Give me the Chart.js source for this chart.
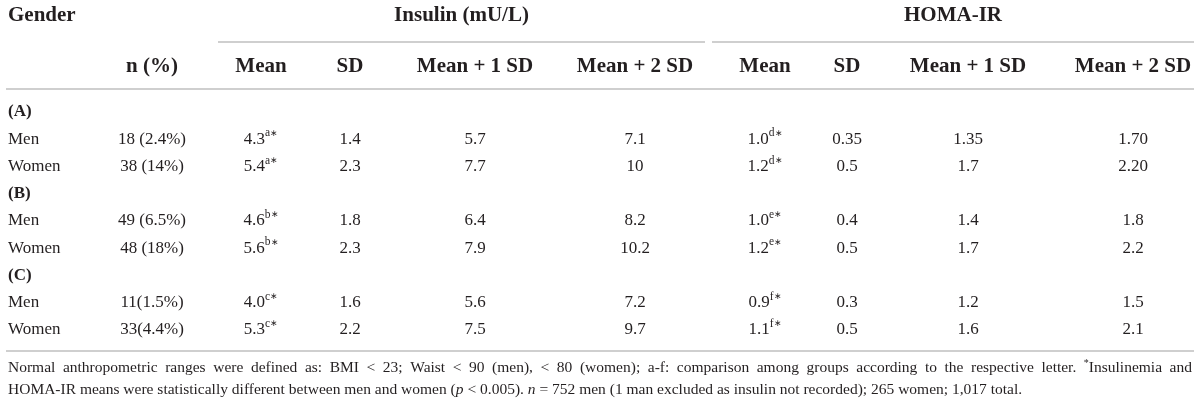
<!DOCTYPE html>
<html><head><meta charset="utf-8">
<script src="https://cdn.jsdelivr.net/npm/chart.js@4/dist/chart.umd.min.js"></script>
<style>html,body{margin:0;padding:0;background:#fff;overflow:hidden}#wrap{width:1200px;height:405px}</style>
</head><body><div id="wrap"><canvas id="c" width="1200" height="405"></canvas></div>
<script>
// ---------- data ----------
const cornerHeader = 'Gender';
const spanHeaders = ['Insulin (mU/L)', 'HOMA-IR'];
const columnHeaders = ['n (%)', 'Mean', 'SD', 'Mean + 1 SD', 'Mean + 2 SD', 'Mean', 'SD', 'Mean + 1 SD', 'Mean + 2 SD'];
const groups = ['(A)', '(B)', '(C)'];
const genders = ['Men', 'Women'];
const nPercent = ['18 (2.4%)', '38 (14%)', '49 (6.5%)', '48 (18%)', '11(1.5%)', '33(4.4%)'];
const insulinMean = ['4.3', '5.4', '4.6', '5.6', '4.0', '5.3'];
const insulinMeanSup = ['a', 'a', 'b', 'b', 'c', 'c'];
const insulinSD = ['1.4', '2.3', '1.8', '2.3', '1.6', '2.2'];
const insulinMean1SD = ['5.7', '7.7', '6.4', '7.9', '5.6', '7.5'];
const insulinMean2SD = ['7.1', '10', '8.2', '10.2', '7.2', '9.7'];
const homaMean = ['1.0', '1.2', '1.0', '1.2', '0.9', '1.1'];
const homaMeanSup = ['d', 'd', 'e', 'e', 'f', 'f'];
const homaSD = ['0.35', '0.5', '0.4', '0.5', '0.3', '0.5'];
const homaMean1SD = ['1.35', '1.7', '1.4', '1.7', '1.2', '1.6'];
const homaMean2SD = ['1.70', '2.20', '1.8', '2.2', '1.5', '2.1'];
const significanceMark = '\u2217';
const footnoteLines = [
  'Normal anthropometric ranges were defined as: BMI < 23; Waist < 90 (men), < 80 (women); a-f: comparison among groups according to the respective letter. ^*^Insulinemia and',
  'HOMA-IR means were statistically different between men and women (_p_ < 0.005). _n_ = 752 men (1 man excluded as insulin not recorded); 265 women; 1,017 total.'
];

// ---------- layout / style ----------
const SERIF = '"Liberation Serif","Times New Roman",serif';
const INK = '#231f20';
const RULE = '#cfcfcf';
const FONT_BODY = '17px ' + SERIF;
const FONT_HEAD = 'bold 21px ' + SERIF;
const FONT_GROUP = 'bold 17px ' + SERIF;
const FONT_SUP = '11.5px ' + SERIF;
const FONT_MARK = '9px ' + SERIF;
const FONT_FOOT = '15.5px ' + SERIF;
const FONT_FOOT_IT = 'italic 15.5px ' + SERIF;
const FONT_FOOT_SUP = '10px ' + SERIF;
const colX = [8, 152, 261, 350, 475, 635, 765, 847, 968, 1133];
const LEFT = 6, RIGHT = 1194;
const spanRanges = [[218, 705], [712, 1194]];
const ROW_PX0 = 112, ROW_H = 27.25, CH = 405;
const Y_MIN = -ROW_PX0 / ROW_H, Y_MAX = (CH - ROW_PX0) / ROW_H;
const rowAt = px => (px - ROW_PX0) / ROW_H;
const HEAD1 = rowAt(16), HEAD2 = rowAt(67);
const SPAN_RULE = rowAt(42), HEAD_RULE = rowAt(89), BOTTOM_RULE = rowAt(351);
const FOOT_ROWS = [rowAt(368), rowAt(390)];
const dataRow = k => Math.floor(k / 2) * 3 + 1 + (k % 2);

// ---------- datasets ----------
const dataCols = [nPercent, insulinMean, insulinSD, insulinMean1SD, insulinMean2SD, homaMean, homaSD, homaMean1SD, homaMean2SD];
const supCols = [null, insulinMeanSup, null, null, null, homaMeanSup, null, null, null];
const datasets = [];
datasets.push({ label: cornerHeader, data: [{ x: colX[0], y: HEAD1 }], cells: [cornerHeader], font: FONT_HEAD, align: 'left' });
datasets.push({ label: 'spans', data: spanRanges.map(r => ({ x: (r[0] + r[1]) / 2, y: HEAD1 })), cells: spanHeaders, font: FONT_HEAD, align: 'center' });
datasets.push({ label: 'columns', data: columnHeaders.map((h, c) => ({ x: colX[c + 1], y: HEAD2 })), cells: columnHeaders, font: FONT_HEAD, align: 'center' });
datasets.push({ label: 'groups', data: groups.map((g, i) => ({ x: colX[0], y: i * 3 })), cells: groups, font: FONT_GROUP, align: 'left' });
datasets.push({ label: 'gender', data: nPercent.map((v, k) => ({ x: colX[0], y: dataRow(k) })), cells: nPercent.map((v, k) => genders[k % 2]), font: FONT_BODY, align: 'left' });
dataCols.forEach((arr, c) => {
  datasets.push({ label: columnHeaders[c], data: arr.map((v, k) => ({ x: colX[c + 1], y: dataRow(k) })), cells: arr, sups: supCols[c], font: FONT_BODY, align: 'center' });
});
datasets.forEach(d => { d.pointRadius = 0; d.pointHoverRadius = 0; d.showLine = false; });

function segWidth(ctx, segs) {
  let w = 0;
  segs.forEach(s => { ctx.font = s.font; w += ctx.measureText(s.t).width; });
  return w;
}
function drawSegs(ctx, segs, x, y) {
  segs.forEach(s => {
    ctx.font = s.font;
    ctx.fillText(s.t, x, y + (s.dy || 0));
    x += ctx.measureText(s.t).width;
  });
  return x;
}
function parseWord(word) {
  return word.split(/(\^[^^]*\^|_[^_]*_)/).filter(Boolean).map(s => {
    if (s[0] === '^') return { t: s.slice(1, -1), font: FONT_FOOT_SUP, dy: -5 };
    if (s[0] === '_') return { t: s.slice(1, -1), font: FONT_FOOT_IT };
    return { t: s, font: FONT_FOOT };
  });
}

const tablePlugin = {
  id: 'tablePlugin',
  beforeDatasetsDraw(chart) {
    const ctx = chart.ctx, ys = chart.scales.y, xs = chart.scales.x;
    ctx.save();
    ctx.strokeStyle = RULE;
    ctx.lineWidth = 2;
    const hline = (x0, x1, v) => {
      const y = Math.round(ys.getPixelForValue(v));
      ctx.beginPath(); ctx.moveTo(xs.getPixelForValue(x0), y); ctx.lineTo(xs.getPixelForValue(x1), y); ctx.stroke();
    };
    spanRanges.forEach(r => hline(r[0], r[1], SPAN_RULE));
    hline(LEFT, RIGHT, HEAD_RULE);
    hline(LEFT, RIGHT, BOTTOM_RULE);
    ctx.restore();
  },
  afterDatasetsDraw(chart) {
    const ctx = chart.ctx;
    ctx.save();
    ctx.fillStyle = INK;
    ctx.textBaseline = 'middle';
    ctx.textAlign = 'left';
    chart.data.datasets.forEach((ds, i) => {
      const meta = chart.getDatasetMeta(i);
      meta.data.forEach((el, j) => {
        const segs = [{ t: ds.cells[j], font: ds.font }];
        if (ds.sups) {
          segs.push({ t: ds.sups[j], font: FONT_SUP, dy: -6 });
          segs.push({ t: significanceMark, font: FONT_MARK, dy: -6 });
        }
        const w = segWidth(ctx, segs);
        const x0 = ds.align === 'center' ? el.x - w / 2 : el.x;
        drawSegs(ctx, segs, x0, el.y);
      });
    });
    // footnote
    const ys = chart.scales.y, xs = chart.scales.x;
    const left = xs.getPixelForValue(colX[0]), right = xs.getPixelForValue(RIGHT - 2);
    footnoteLines.forEach((line, li) => {
      const y = ys.getPixelForValue(FOOT_ROWS[li]);
      const words = line.split(' ').map(parseWord);
      const widths = words.map(w => segWidth(ctx, w));
      ctx.font = FONT_FOOT;
      const normalGap = ctx.measureText(' ').width;
      const total = widths.reduce((a, b) => a + b, 0);
      const gap = li === 0 ? (right - left - total) / (words.length - 1) : normalGap;
      let x = left;
      words.forEach((w, k) => { drawSegs(ctx, w, x, y); x += widths[k] + gap; });
    });
    ctx.restore();
  }
};

new Chart(document.getElementById('c'), {
  type: 'scatter',
  data: { datasets },
  options: {
    responsive: false,
    animation: false,
    events: [],
    layout: { padding: 0 },
    plugins: { legend: { display: false }, tooltip: { enabled: false }, title: { display: false } },
    scales: {
      x: { type: 'linear', min: 0, max: 1200, display: false },
      y: { type: 'linear', min: Y_MIN, max: Y_MAX, reverse: true, display: false }
    }
  },
  plugins: [tablePlugin]
});
</script>
</body></html>
